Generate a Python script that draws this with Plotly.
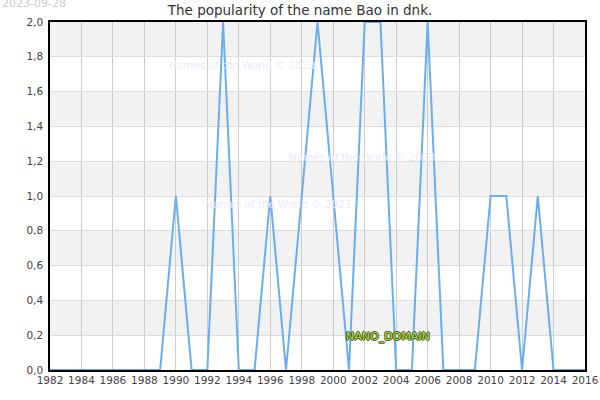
import plotly.graph_objects as go

years = list(range(1982, 2017))
counts = [0, 0, 0, 0, 0, 0, 0, 0,  # 1982-1989
          1, 0, 0, 2, 0, 0, 1, 0, 1, 2,  # 1990-1999
          1, 0, 2, 2, 0, 0, 2, 0, 0, 0,  # 2000-2009
          1, 1, 0, 1, 0, 0, 0]  # 2010-2016
bands = [(0.2, 0.4), (0.6, 0.8), (1.0, 1.2), (1.4, 1.6), (1.8, 2.0)]
title_text = "The popularity of the name Bao in dnk."
date_text = "2023-09-28"
watermark = "Names of the World © 2023"
wm_positions = [(0.219, 0.899), (0.583, 0.612), (0.286, 0.477)]

fig = go.Figure()
fig.add_trace(go.Scatter(x=years, y=counts, mode="lines",
                         line=dict(color="#6aaef0", width=2), hoverinfo="skip"))

shapes = [dict(type="rect", xref="paper", yref="y", x0=0, x1=1, y0=a, y1=b,
               fillcolor="#f2f2f2", line=dict(width=0), layer="below") for a, b in bands]

ann = []
for x, y in wm_positions:
    ann.append(dict(text=watermark, xref="paper", yref="paper", x=x, y=y,
                    showarrow=False, font=dict(size=10.4, color="#ebebf9", family="DejaVu Sans")))
ann.append(dict(text=date_text, xref="paper", yref="paper", x=-50/535, y=1 + 19/348,
                xanchor="left", yanchor="middle", showarrow=False,
                font=dict(size=11, color="#cccccc", family="DejaVu Sans")))
ann.append(dict(text="NANO_DOMAIN", xref="x", yref="y", x=2003.5, y=0.19,
                showarrow=False,
                font=dict(size=11, color="#b8d95a", family="DejaVu Sans",
                          shadow="1px 0 0 #3b5a00, -1px 0 0 #3b5a00, 0 1px 0 #3b5a00, 0 -1px 0 #3b5a00")))

fig.update_layout(
    width=600, height=400,
    margin=dict(l=50, r=15, t=22, b=30, autoexpand=False),
    paper_bgcolor="white", plot_bgcolor="white",
    separators=", ",
    showlegend=False,
    title=dict(text=title_text, x=0.5, xanchor="center", y=1 - 10/400, yanchor="middle",
               font=dict(size=13.5, color="#333333", family="DejaVu Sans")),
    font=dict(family="DejaVu Sans", size=10.5, color="#444444"),
    xaxis=dict(range=[1982, 2016], dtick=2, tick0=1982, showgrid=True, gridcolor="#cccccc",
               gridwidth=1, showline=True, linecolor="black", linewidth=1.5, mirror=True,
               zeroline=False, ticks="", automargin=False, tickfont=dict(size=10.5, color="#444444")),
    yaxis=dict(range=[0, 2], dtick=0.2, tickformat=".1f", showgrid=True, gridcolor="#dddddd",
               showline=True, linecolor="black", linewidth=1.5, mirror=True, zeroline=False,
               ticks="", automargin=False, ticklabelstandoff=3,
               tickfont=dict(size=10.5, color="#444444")),
    shapes=shapes,
    annotations=ann,
)

fig.write_html("out.html", config={"displayModeBar": False},
               post_script="document.body.style.margin='0';")
